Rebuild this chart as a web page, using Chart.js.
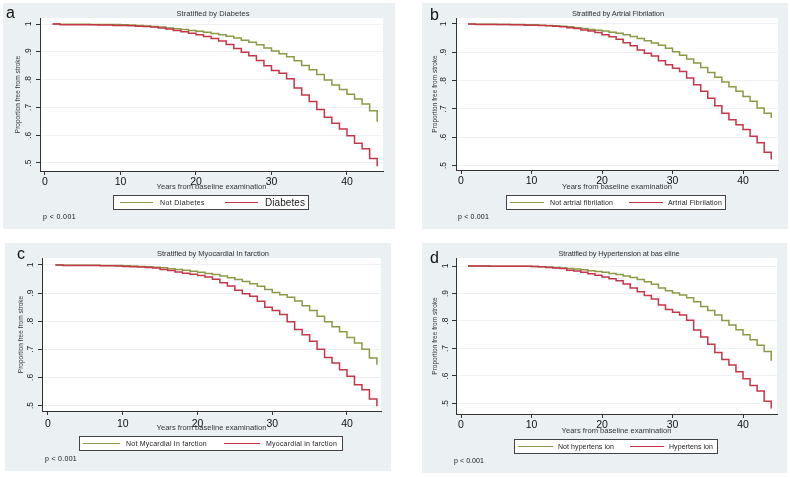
<!DOCTYPE html>
<html>
<head>
<meta charset="utf-8">
<script src="https://cdn.jsdelivr.net/npm/chart.js@4.4.1/dist/chart.umd.min.js"></script>
<style>
  html, body { margin: 0; padding: 0; background: #fff; }
  body { width: 790px; height: 477px; position: relative; overflow: hidden;
         font-family: "Liberation Sans", Arial, sans-serif; color: #222; }
  .panel { position: absolute; background: #ebf0f3; }
  .panel canvas { position: absolute; left: 0; top: 0; }
  .txt { position: absolute; white-space: nowrap; line-height: 1; }
  .legend { position: absolute; background: #fff; border: 1px solid #444; box-sizing: border-box; }
  .swatch { position: absolute; height: 1px; }
</style>
</head>
<body>
<script>
// ---- data ----
const years = [1, 2, 3, 4, 5, 6, 7, 8, 9, 10, 11, 12, 13, 14, 15, 16, 17, 18, 19, 20, 21, 22,
  23, 24, 25, 26, 27, 28, 29, 30, 31, 32, 33, 34, 35, 36, 37, 38, 39, 40, 41, 42, 43, 44];

const notDiabetes = [1, .999, .999, .999, .999, .998, .998, .998, .998, .997, .996, .995, .993, .991,
  .989, .986, .983, .980, .977, .974, .970, .966, .961, .956, .950, .942, .934, .925, .914, .903,
  .893, .882, .868, .851, .835, .818, .799, .781, .764, .747, .730, .712, .688, .648];
const diabetes = [1, .997, .997, .997, .997, .997, .996, .996, .995, .995, .994, .992, .991, .989,
  .986, .982, .977, .972, .967, .961, .955, .948, .939, .926, .912, .898, .886, .869, .850, .833,
  .823, .803, .770, .745, .721, .692, .665, .643, .622, .598, .571, .551, .516, .488];

const notAF = [1, .999, .999, .999, .998, .998, .998, .998, .997, .997, .996, .995, .994, .992,
  .990, .987, .984, .981, .978, .975, .971, .967, .962, .956, .949, .941, .933, .925, .914, .902,
  .890, .876, .862, .846, .829, .812, .795, .778, .762, .744, .727, .703, .685, .668];
const af = [1, .998, .998, .998, .998, .998, .997, .997, .996, .996, .995, .994, .992, .990,
  .987, .984, .979, .975, .970, .962, .955, .946, .934, .923, .908, .897, .887, .870, .856, .844,
  .832, .809, .785, .762, .738, .711, .685, .662, .644, .627, .603, .580, .547, .521];

const notMI = [1, .999, .999, .999, .999, .999, .998, .998, .998, .997, .996, .995, .994, .992,
  .990, .987, .984, .981, .978, .974, .970, .966, .961, .955, .948, .941, .933, .924, .913, .902,
  .894, .885, .872, .855, .838, .818, .798, .780, .762, .742, .722, .700, .669, .645];
const mi = [1, .998, .998, .998, .998, .998, .997, .997, .996, .995, .994, .993, .991, .989,
  .984, .980, .975, .971, .967, .963, .957, .949, .937, .925, .910, .898, .889, .871, .850, .838,
  .824, .798, .770, .752, .729, .700, .671, .651, .627, .604, .574, .556, .523, .497];

const notHT = [1, 1, 1, .999, .999, .999, .999, .999, .999, .998, .997, .996, .995, .993,
  .991, .989, .986, .983, .980, .977, .973, .969, .964, .958, .951, .943, .934, .920, .910, .902,
  .895, .885, .870, .853, .838, .822, .802, .785, .768, .750, .732, .712, .689, .655];
const ht = [1, 1, 1, .999, .999, .999, .999, .999, .999, .998, .997, .995, .993, .991,
  .985, .982, .977, .972, .966, .960, .954, .946, .935, .920, .906, .893, .880, .858, .842, .832,
  .822, .803, .767, .742, .715, .685, .660, .640, .615, .590, .565, .545, .508, .482];

const xTicks = [0, 10, 20, 30, 40];
const yTicks = [0.5, 0.6, 0.7, 0.8, 0.9, 1];
const yTickLabels = ['.5', '.6', '.7', '.8', '.9', '1'];

const GREEN = '#8b9a46';
const RED = '#c53649';
const FONT = '"Liberation Sans", Arial, sans-serif';
Chart.defaults.font.family = FONT;

// ---- layout of the four panels (page pixels) ----
const panels = [
  { letter: 'a', no: notDiabetes, yes: diabetes,
    title: 'Stratified by Diabetes', tx: 213, ty: 14, tw: 73,
    box: [3, 3, 395, 229], plot: [40, 18, 383, 171], xh: 20.5, tickPad: 1,
    xr: [-0.66, 44.77], yr: [0.4712, 1.0216], yTitlePad: 11, yLabOff: 11,
    letterPos: [6, 4.5],
    legend: [113, 195, 196, 15],
    items: [[GREEN, 120, 153, 'Not Diabetes', 160, 45, 7], [RED, 225, 258, 'Diabetes', 265, 40, 10]],
    p: [43, 216, 33] },
  { letter: 'b', no: notAF, yes: af,
    title: 'Stratified by Artrial Fibrilation', tx: 618, ty: 14, tw: 92,
    box: [422, 3, 788, 229], plot: [456, 18, 778, 170], xh: 21.5, tickPad: 1.5,
    xr: [-0.71, 44.96], yr: [0.4841, 1.0212], yTitlePad: 9, yLabOff: 12,
    letterPos: [430, 6.5],
    legend: [506, 195, 220, 15],
    items: [[GREEN, 510, 544, 'Not artrial fibrilation', 550, 63, 7], [RED, 629, 663, 'Artrial Fibrilation', 668, 54, 7]],
    p: [458, 216, 31] },
  { letter: 'c', no: notMI, yes: mi,
    title: 'Stratified by Myocardial In farction', tx: 213, ty: 254, tw: 112,
    box: [5, 243, 391, 471], plot: [42, 258, 381, 411], xh: 21.5, tickPad: 3.5,
    xr: [-0.80, 44.55], yr: [0.4804, 1.0249], yTitlePad: 12, yLabOff: 11.5,
    letterPos: [17, 245.5],
    legend: [79, 436, 264, 15],
    items: [[GREEN, 83, 120, 'Not Mycardial In farction', 126, 81, 7], [RED, 224, 260, 'Myocardial in farction', 266, 71, 7]],
    p: [45, 458, 32] },
  { letter: 'd', no: notHT, yes: ht,
    title: 'Stratified by Hypertension at bas eline', tx: 619, ty: 254, tw: 121,
    box: [422, 243, 787, 473], plot: [456, 258, 777, 414], xh: 21.5, tickPad: 1.5,
    xr: [-0.71, 44.82], yr: [0.4618, 1.0291], yTitlePad: 9, yLabOff: 10.5,
    letterPos: [430, 249.5],
    legend: [514, 439, 204, 15],
    items: [[GREEN, 518, 553, 'Not hypertens ion', 558, 56, 7], [RED, 630, 664, 'Hypertens ion', 669, 44, 7]],
    p: [454, 460, 30] }
];

// text helper: optional target width is reached with letter-spacing
function addText(text, x, y, size, opts = {}) {
  const el = document.createElement('div');
  el.className = 'txt';
  el.textContent = text;
  el.style.fontSize = size + 'px';
  el.style.color = opts.color || '#222';
  if (opts.weight) el.style.fontWeight = opts.weight;
  document.body.appendChild(el);
  let w = el.getBoundingClientRect().width;
  if (opts.w) {
    el.style.letterSpacing = ((opts.w - w) / text.length) + 'px';
    w = el.getBoundingClientRect().width;
  }
  el.style.left = (opts.center ? x - w / 2 : x) + 'px';
  el.style.top = (opts.top ? y : y - size / 2) + 'px';
  return el;
}

const plotBg = {
  id: 'plotBg',
  beforeDraw(chart) {
    const { ctx, chartArea: a } = chart;
    ctx.save();
    ctx.fillStyle = '#fff';
    ctx.fillRect(a.left, a.top, a.right - a.left, a.bottom - a.top);
    ctx.restore();
  }
};

// Stata style: y tick labels read bottom to top
const yLabels = {
  id: 'yLabels',
  afterDraw(chart, args, opts) {
    const s = chart.scales.y;
    const ctx = chart.ctx;
    ctx.save();
    ctx.fillStyle = '#1a1a1a';
    ctx.font = '8.5px ' + FONT;
    ctx.textAlign = 'center';
    ctx.textBaseline = 'middle';
    yTicks.forEach((v, i) => {
      ctx.save();
      ctx.translate(s.right - opts.off, s.getPixelForValue(v));
      ctx.rotate(-Math.PI / 2);
      ctx.fillText(yTickLabels[i], 0, 0);
      ctx.restore();
    });
    ctx.restore();
  }
};

function pts(vals) {
  return years.map((x, i) => ({ x: x, y: vals[i] }));
}

panels.forEach(p => {
  const [L, T, R, B] = p.box;
  const div = document.createElement('div');
  div.className = 'panel';
  Object.assign(div.style, { left: L + 'px', top: T + 'px', width: (R - L) + 'px', height: (B - T) + 'px' });
  const cv = document.createElement('canvas');
  cv.width = R - L;
  cv.height = B - T;
  div.appendChild(cv);
  document.body.appendChild(div);

  new Chart(cv, {
    type: 'line',
    data: {
      datasets: [
        { data: pts(p.yes), borderColor: RED, borderWidth: 1.5, stepped: true, pointRadius: 0, fill: false, order: 1 },
        { data: pts(p.no), borderColor: GREEN, borderWidth: 1.5, stepped: true, pointRadius: 0, fill: false, order: 2 }
      ]
    },
    options: {
      responsive: false,
      animation: false,
      devicePixelRatio: 1,
      layout: { padding: { left: 0, top: p.plot[1] - T, right: R - p.plot[2], bottom: B - p.plot[3] - p.xh } },
      plugins: { legend: { display: false }, tooltip: { enabled: false }, yLabels: { off: p.yLabOff } },
      scales: {
        x: {
          type: 'linear', min: p.xr[0], max: p.xr[1],
          afterBuildTicks: s => { s.ticks = xTicks.map(v => ({ value: v })); },
          afterFit: s => { s.height = p.xh; },
          grid: { drawOnChartArea: false, drawTicks: true, tickLength: 4, color: '#333', tickColor: '#333' },
          border: { color: '#333', width: 1 },
          ticks: { color: '#111', font: { size: 10.5 }, padding: p.tickPad - 0.5, maxRotation: 0, autoSkip: false,
                   callback: v => String(v) },
          title: { display: true, text: 'Years from baseline examination', color: '#333',
                   font: { size: 7.6 }, padding: 0 }
        },
        y: {
          type: 'linear', min: p.yr[0], max: p.yr[1],
          afterBuildTicks: s => { s.ticks = yTicks.map(v => ({ value: v })); },
          afterFit: s => { s.width = p.plot[0] - L; },
          grid: { color: '#edf1f4', tickColor: '#333', drawTicks: true, tickLength: 4 },
          border: { color: '#333', width: 1 },
          ticks: { display: false },
          title: { display: true, text: 'Proportion free from stroke', color: '#333',
                   font: { size: 6.5 }, padding: { top: p.yTitlePad, bottom: 0 } }
        }
      }
    },
    plugins: [plotBg, yLabels]
  });

  // panel letter, title, legend, p value
  addText(p.letter, p.letterPos[0], p.letterPos[1], 16, { top: true, color: '#111' });
  addText(p.title, p.tx, p.ty, 7.5, { w: p.tw, center: true, color: '#333' });

  const [lx, ly, lw, lh] = p.legend;
  const lg = document.createElement('div');
  lg.className = 'legend';
  Object.assign(lg.style, { left: lx + 'px', top: ly + 'px', width: lw + 'px', height: lh + 'px' });
  document.body.appendChild(lg);
  const cy = ly + lh / 2;
  p.items.forEach(([col, x1, x2, label, tx, tw, size]) => {
    const sw = document.createElement('div');
    sw.className = 'swatch';
    Object.assign(sw.style, { left: x1 + 'px', top: Math.floor(cy) + 'px', width: (x2 - x1) + 'px', background: col });
    document.body.appendChild(sw);
    addText(label, tx, cy, size, { w: tw });
  });

  addText('p < 0.001', p.p[0], p.p[1], 7, { w: p.p[2], color: '#111' });
});
</script>
</body>
</html>
